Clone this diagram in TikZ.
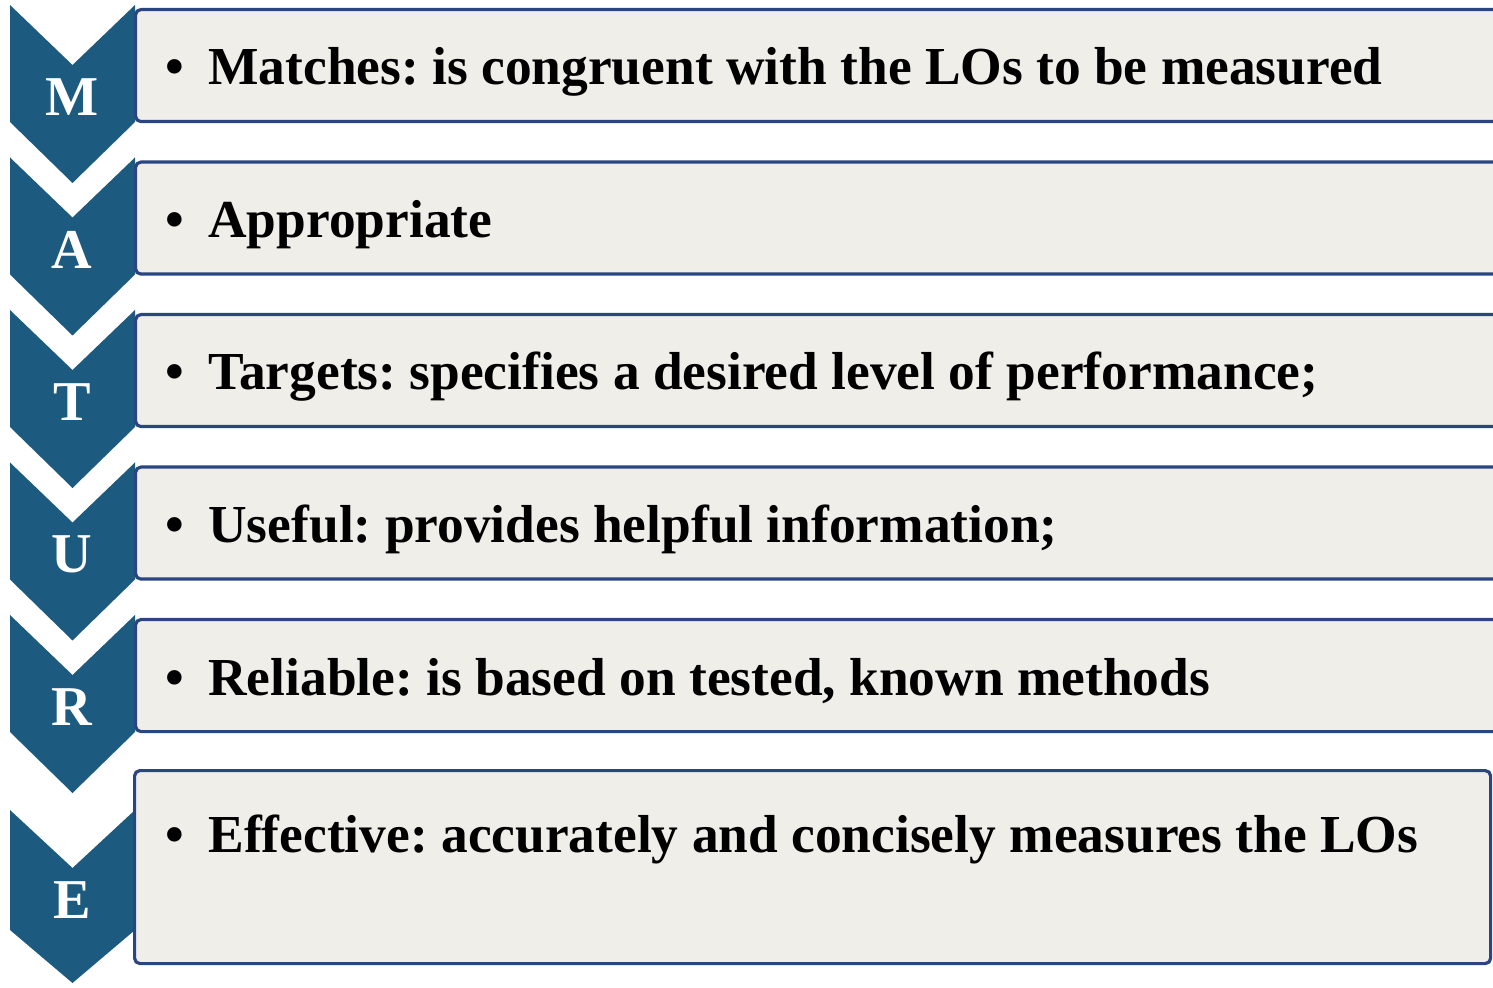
\documentclass[tikz,border=0pt]{standalone}
\usepackage{fontspec}
\setmainfont{Liberation Serif}
\usepackage{xcolor}
\usetikzlibrary{positioning}
\definecolor{chevBlue}{HTML}{1C5A7F}
\definecolor{boxNavy}{HTML}{2B4582}
\definecolor{boxFill}{HTML}{EFEEE9}
\tikzset{
  chevron/.style = {fill=chevBlue, draw=none},
  letter/.style  = {text=white, inner sep=0pt,
                    font=\bfseries\fontsize{16}{18}\selectfont},
  itembox/.style = {rectangle, draw=boxNavy, fill=boxFill,
                    line width=0.9pt, rounded corners=1.5pt,
                    anchor=north west, inner sep=0pt},
  item/.style    = {anchor=base west, inner sep=0pt,
                    font=\bfseries\fontsize{15.2}{18}\selectfont\frenchspacing}
}
\newcommand{\itembullet}{\textbullet\hspace{0.45em}}

\begin{document}
\begin{tikzpicture}
\useasboundingbox (0,0) rectangle (14.93,-9.88);
% first five rows
\foreach \ltr/\txt [count=\i from 0] in {%
    M/{Matches: is congruent with the LOs to be measured},
    A/{Appropriate},
    T/{Targets: specifies a desired level of performance;},
    U/{Useful: provides helpful information;},
    R/{Reliable: is based on tested, known methods}}{
  \pgfmathsetmacro\rowy{-1.525*\i}
  \fill[chevron] (0.10,\rowy-0.05) -- ++(0.625,-0.60) -- ++(0.625,0.60)
    -- ++(0,-1.17) -- ++(-0.625,-0.61) -- ++(-0.625,0.61) -- cycle;
  \node[itembox, minimum width=14cm, minimum height=1.12cm]
    (box\ltr) at (1.34,\rowy-0.08) {};
  \node[item] (item\ltr) at (1.65,\rowy-0.85) {\itembullet\txt};
  \node[letter] (letter\ltr) at (0.72,\rowy-0.97) {\ltr};
}
% last row
\fill[chevron] (0.10,-8.10) -- ++(0.625,-0.58) -- ++(0.625,0.58)
  -- ++(0,-1.20) -- ++(-0.625,-0.53) -- ++(-0.625,0.53) -- cycle;
\node[itembox, minimum width=13.56cm, minimum height=1.93cm]
  (boxE) at (1.33,-7.69) {};
\node[item] (itemE) at (1.65,-8.52)
  {\itembullet Effective: accurately and concisely measures the LOs};
\node[letter] (letterE) at (0.72,-9.00) {E};
\end{tikzpicture}
\end{document}
